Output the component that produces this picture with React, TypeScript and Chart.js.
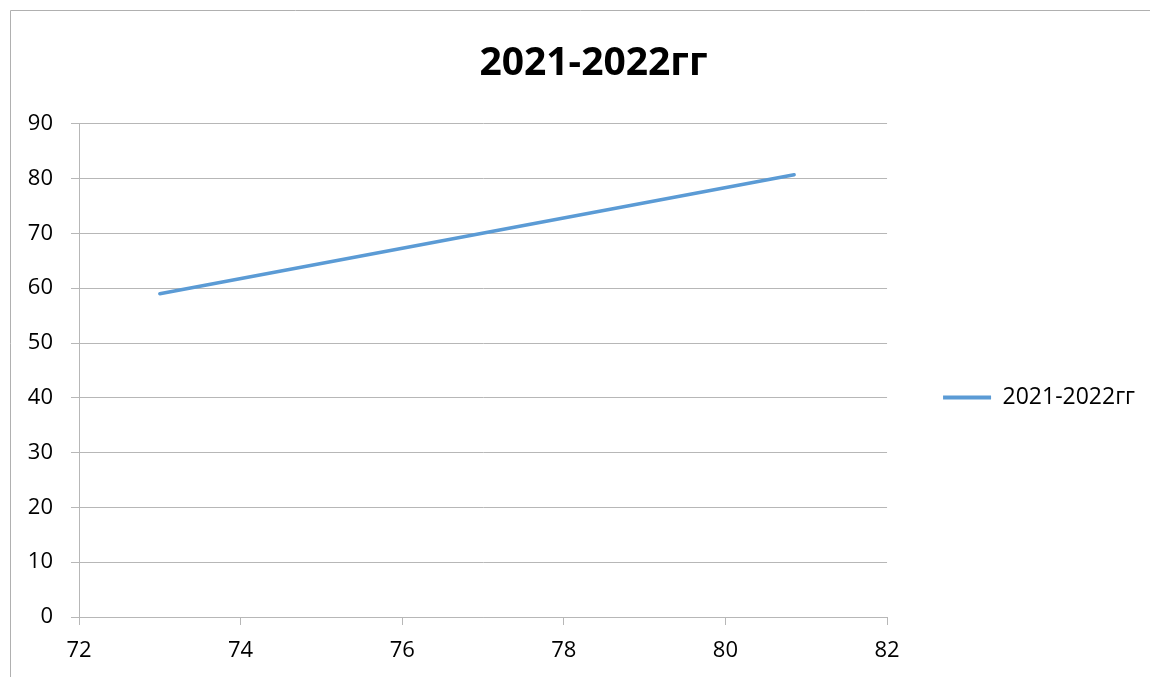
import React, { useEffect, useRef } from "react";
import { Chart, registerables } from "chart.js";

Chart.register(...registerables);

const seriesLabel = "2021-2022гг";
const titleText = "2021-2022гг";
const xValues = [73, 80.85];
const yValues = [59, 80.7];
const xTicksRange = [72, 82];
const yTicksRange = [0, 90];

const FONT = "'Open Sans', 'Liberation Sans', sans-serif";
const BLUE = "#5b9bd5";
const GRID = "#b7b7b7";

const framePlugin = {
  id: "frame",
  afterLayout(chart: any) {
    if (chart.titleBlock) {
      chart.titleBlock.left = 42;
    }
  },
  beforeDraw(chart: any) {
    const ctx = chart.ctx;
    ctx.save();
    ctx.strokeStyle = "#b0b0b0";
    ctx.lineWidth = 1;
    ctx.beginPath();
    ctx.moveTo(10.5, chart.height);
    ctx.lineTo(10.5, 10.5);
    ctx.lineTo(chart.width, 10.5);
    ctx.stroke();
    ctx.restore();
  },
};

export default function App() {
  const ref = useRef<HTMLCanvasElement>(null);

  useEffect(() => {
    if (!ref.current) return;
    const points = xValues.map((x, i) => ({ x, y: yValues[i] }));
    const chart = new Chart(ref.current, {
      type: "scatter",
      data: {
        datasets: [
          {
            label: seriesLabel,
            data: points,
            showLine: true,
            borderColor: BLUE,
            backgroundColor: BLUE,
            borderWidth: 3.5,
            borderCapStyle: "round",
            pointRadius: 0,
            pointHoverRadius: 0,
          },
        ],
      },
      options: {
        animation: false,
        responsive: true,
        maintainAspectRatio: false,
        layout: { padding: { left: 10, right: 5, top: 0, bottom: 0 } },
        plugins: {
          tooltip: { enabled: false },
          title: {
            display: true,
            text: titleText,
            color: "#000",
            font: { family: FONT, size: 39, weight: "bold" },
            padding: { top: 40, bottom: 37 },
          },
          legend: {
            position: "right",
            align: "center",
            title: {
              display: true,
              text: " ",
              font: { size: 10 },
              padding: { top: 106, bottom: 0 },
            },
            labels: {
              boxWidth: 48,
              boxHeight: 4,
              padding: 56,
              color: "#000",
              font: { family: FONT, size: 23 },
              generateLabels(chart: any) {
                const items = Chart.defaults.plugins.legend.labels.generateLabels(chart);
                return items.map((it: any) => ({ ...it, lineWidth: 0, fillStyle: BLUE }));
              },
            },
          },
        },
        scales: {
          x: {
            type: "linear",
            min: xTicksRange[0],
            max: xTicksRange[1],
            ticks: {
              stepSize: 2,
              color: "#000",
              padding: 13,
              font: { family: FONT, size: 22 },
            },
            grid: {
              display: true,
              drawOnChartArea: false,
              drawTicks: true,
              tickLength: 8,
              color: GRID,
            },
            border: { display: true, color: GRID, width: 1 },
            afterFit(scale: any) {
              scale.height = 60;
            },
          },
          y: {
            type: "linear",
            min: yTicksRange[0],
            max: yTicksRange[1],
            ticks: {
              stepSize: 10,
              color: "#000",
              padding: 18,
              font: { family: FONT, size: 22 },
            },
            grid: {
              display: true,
              drawOnChartArea: true,
              drawTicks: true,
              tickLength: 8,
              color: GRID,
            },
            border: { display: true, color: GRID, width: 1 },
            afterFit(scale: any) {
              scale.width = 69;
            },
          },
        },
      },
      plugins: [framePlugin],
    });
    return () => chart.destroy();
  }, []);

  return (
    <div style={{ position: "fixed", left: 0, top: 0, width: 1150, height: 677 }}>
      <canvas ref={ref} />
    </div>
  );
}
